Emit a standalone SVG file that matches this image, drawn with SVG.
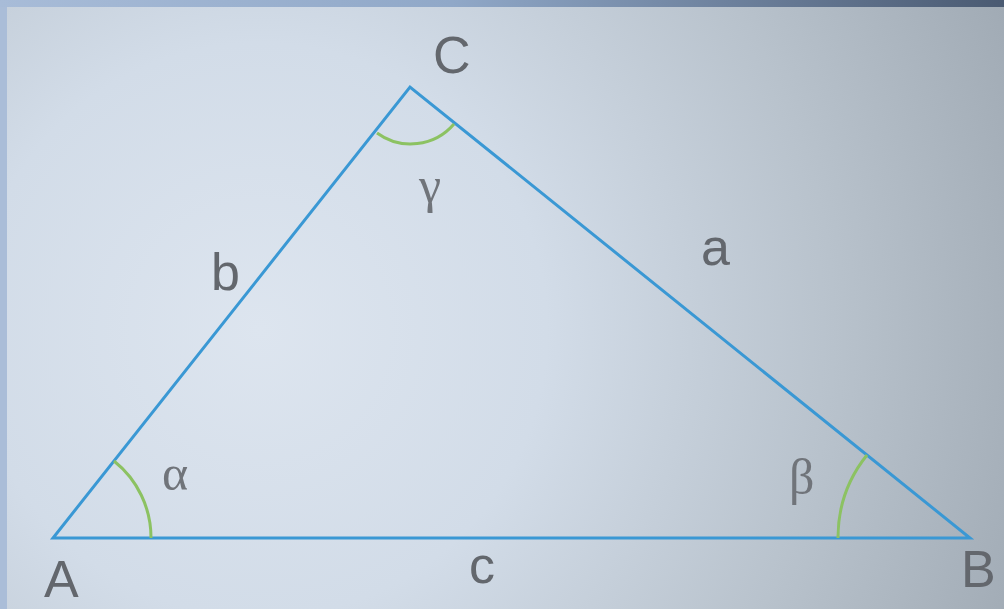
<svg xmlns="http://www.w3.org/2000/svg" width="1004" height="609" viewBox="0 0 1004 609">
<defs>
<radialGradient id="bg" cx="260" cy="330" r="820" gradientUnits="userSpaceOnUse">
<stop offset="0" stop-color="#dde5ef"/>
<stop offset="0.35" stop-color="#d2dce8"/>
<stop offset="0.7" stop-color="#b8c2cc"/>
<stop offset="1" stop-color="#a0aab4"/>
</radialGradient>
<linearGradient id="top" x1="0" y1="0" x2="1" y2="0">
<stop offset="0" stop-color="#a8bcd8"/>
<stop offset="0.45" stop-color="#90a8c8"/>
<stop offset="1" stop-color="#4a5a72"/>
</linearGradient>
<style>
.side{fill:none;stroke:#3a98d4;stroke-width:3;stroke-linejoin:miter}
.arc{fill:none;stroke:#8cc262;stroke-width:3}
.lbl{font-family:"Liberation Sans",Arial,sans-serif;font-size:52px;fill:#63676d}
.grk{font-family:"Liberation Serif","Times New Roman",serif;font-size:50px;fill:#70747a}
</style>
</defs>
<rect x="0" y="0" width="1004" height="609" fill="url(#bg)"/>
<rect x="0" y="0" width="7" height="609" fill="#aabdd8"/>
<rect x="0" y="0" width="1004" height="7" fill="url(#top)"/>
<g id="connectors">
<polygon class="side" points="53,538 970,538 410,87"/>
</g>
<g id="angle-alpha">
<path class="arc" d="M114,461 A98,98 0 0 1 151,538"/>
<text class="grk" x="162" y="490">α</text>
</g>
<g id="angle-beta">
<path class="arc" d="M867,455 A132,132 0 0 0 838,538"/>
<text class="grk" x="789" y="494">β</text>
</g>
<g id="angle-gamma">
<path class="arc" d="M377,133 A57,57 0 0 0 454,124"/>
<text class="grk" x="430" y="202" text-anchor="middle">γ</text>
</g>
<g id="vertex-A"><text class="lbl" x="44" y="597">A</text></g>
<g id="vertex-B"><text class="lbl" x="961" y="587">B</text></g>
<g id="vertex-C"><text class="lbl" x="433" y="73">C</text></g>
<g id="side-a"><text class="lbl" x="701" y="265">a</text></g>
<g id="side-b"><text class="lbl" x="211" y="290">b</text></g>
<g id="side-c"><text class="lbl" x="469" y="583">c</text></g>
</svg>
